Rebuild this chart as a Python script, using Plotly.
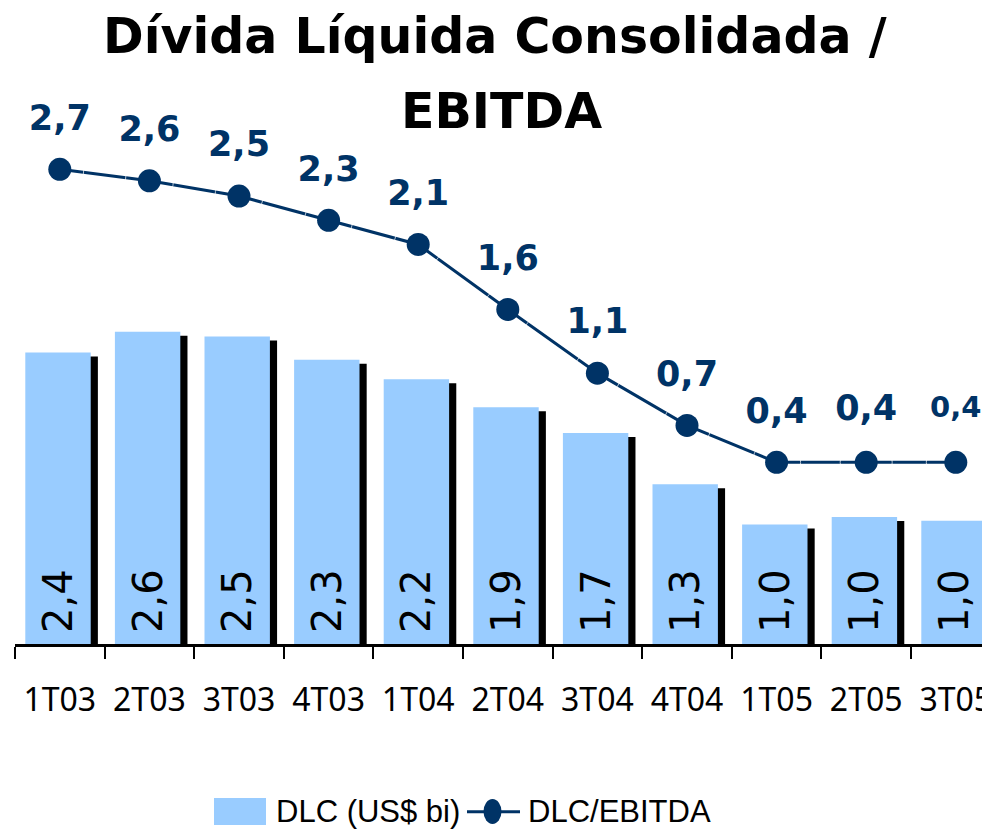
import plotly.graph_objects as go

# ---- data ----
quarters = ["1T03", "2T03", "3T03", "4T03", "1T04", "2T04", "3T04", "4T04", "1T05", "2T05", "3T05"]
dlc_usd_bi = [2.39, 2.56, 2.52, 2.33, 2.17, 1.94, 1.73, 1.31, 0.98, 1.04, 1.01]
dlc_ebitda = [2.70, 2.61, 2.49, 2.30, 2.11, 1.60, 1.10, 0.69, 0.40, 0.40, 0.40]

title_line1 = "Dívida Líquida Consolidada /"
title_line2 = "EBITDA"
legend_bar = "DLC (US$ bi)"
legend_line = "DLC/EBITDA"

# ---- style ----
OFF = 8                      # page body margin in the browser
W, H = 990 - OFF, 829 - OFF  # figure size that fits the window
BAR_BLUE = "#99CCFF"
NAVY = "#003366"
# target positions in window pixels
PLOT_LEFT = 15
PLOT_TOP, PLOT_BOTTOM = 150, 644
CAT_PX = 89.6
BAR_PX_PER_UNIT = 122.0
LINE_PX_PER_UNIT = 127.4
LINE_ZERO_PX = 513.3
SHADOW_DROP = 4 / BAR_PX_PER_UNIT


def px_x(p):
    return (p - OFF) / W


def px_y(p):
    return 1 - (p - OFF) / H


plot_h = PLOT_BOTTOM - PLOT_TOP
y1_range = [0, plot_h / BAR_PX_PER_UNIT]
y2_range = [(LINE_ZERO_PX - PLOT_BOTTOM) / LINE_PX_PER_UNIT,
            (LINE_ZERO_PX - PLOT_TOP) / LINE_PX_PER_UNIT]
x_right_px = OFF + W
x_range = [-0.5, (x_right_px - PLOT_LEFT) / CAT_PX - 0.5]

fig = go.Figure()

# shadow bars (drawn first, behind)
fig.add_trace(go.Bar(
    x=quarters, y=[v - SHADOW_DROP for v in dlc_usd_bi],
    width=0.73, offset=-0.305,
    marker=dict(color="black", line=dict(width=0)),
    hoverinfo="skip", showlegend=False,
))

# main bars
fig.add_trace(go.Bar(
    x=quarters, y=dlc_usd_bi, name=legend_bar,
    width=0.73, offset=-0.385,
    marker=dict(color=BAR_BLUE, line=dict(width=0)),
    texttemplate="\u2009%{y:.1f}",
    textposition="inside", insidetextanchor="start", textangle=-90,
    textfont=dict(family="DejaVu Sans", size=40, color="black"),
    constraintext="none",
    showlegend=False,
))

# line
fig.add_trace(go.Scatter(
    x=quarters, y=dlc_ebitda, yaxis="y2", name=legend_line,
    mode="lines+markers",
    line=dict(color=NAVY, width=3),
    marker=dict(color=NAVY, size=23),
    showlegend=False, cliponaxis=False,
))

# line value labels
fig.add_trace(go.Scatter(
    x=quarters, y=dlc_ebitda, yaxis="y2",
    mode="markers+text",
    marker=dict(color="rgba(0,0,0,0)", size=[48] * 9 + [52, 59]),
    texttemplate="%{y:.1f}",
    textposition="top center",
    textfont=dict(family="DejaVu Sans", size=[35] * 10 + [29], color=NAVY, weight="bold"),
    hoverinfo="skip", showlegend=False, cliponaxis=False,
))

LEG_FONT = dict(family="Liberation Sans, Arial, sans-serif", size=31, color="black")
TITLE_FONT = dict(family="DejaVu Sans", size=49, color="black", weight="bold")

annotations = [
    dict(text=title_line1, x=px_x(495), y=px_y(37), xref="paper", yref="paper",
         xanchor="center", yanchor="middle", showarrow=False, font=TITLE_FONT),
    dict(text=title_line2, x=px_x(501), y=px_y(111), xref="paper", yref="paper",
         xanchor="center", yanchor="middle", showarrow=False, font=TITLE_FONT),
    dict(text=legend_bar, x=px_x(274), y=px_y(811), xref="paper", yref="paper",
         xanchor="left", yanchor="middle", showarrow=False, font=LEG_FONT),
    dict(text=legend_line, x=px_x(526), y=px_y(811), xref="paper", yref="paper",
         xanchor="left", yanchor="middle", showarrow=False, font=LEG_FONT),
]

shapes = [
    dict(type="rect", xref="paper", yref="paper",
         x0=px_x(214), x1=px_x(266), y0=px_y(825), y1=px_y(798),
         fillcolor=BAR_BLUE, line=dict(width=0)),
    dict(type="line", xref="paper", yref="paper",
         x0=px_x(467), x1=px_x(520), y0=px_y(811.7), y1=px_y(811.7),
         line=dict(color=NAVY, width=3)),
    dict(type="circle", xref="paper", yref="paper",
         x0=px_x(483.5), x1=px_x(501.5), y0=px_y(824), y1=px_y(799),
         fillcolor=NAVY, line=dict(width=0)),
]

fig.update_layout(
    width=W, height=H,
    margin=dict(l=0, r=0, t=0, b=0),
    paper_bgcolor="white", plot_bgcolor="white",
    separators=",.",
    barmode="overlay",
    showlegend=False,
    annotations=annotations,
    shapes=shapes,
    xaxis=dict(
        type="category", categoryorder="array", categoryarray=quarters,
        domain=[px_x(PLOT_LEFT), 1],
        range=x_range,
        showline=True, linecolor="black", linewidth=3,
        ticks="outside", tickson="boundaries", ticklen=12, tickwidth=2, tickcolor="black",
        tickfont=dict(family="Noto Sans", size=32, color="black"),
        ticklabelstandoff=26,
        showgrid=False, zeroline=False, automargin=False, fixedrange=True,
    ),
    yaxis=dict(
        domain=[px_y(PLOT_BOTTOM), px_y(PLOT_TOP)],
        range=y1_range, visible=False, showgrid=False, zeroline=False, fixedrange=True,
    ),
    yaxis2=dict(
        overlaying="y", range=y2_range, visible=False,
        showgrid=False, zeroline=False, fixedrange=True,
    ),
)

fig.write_html("out.html")
